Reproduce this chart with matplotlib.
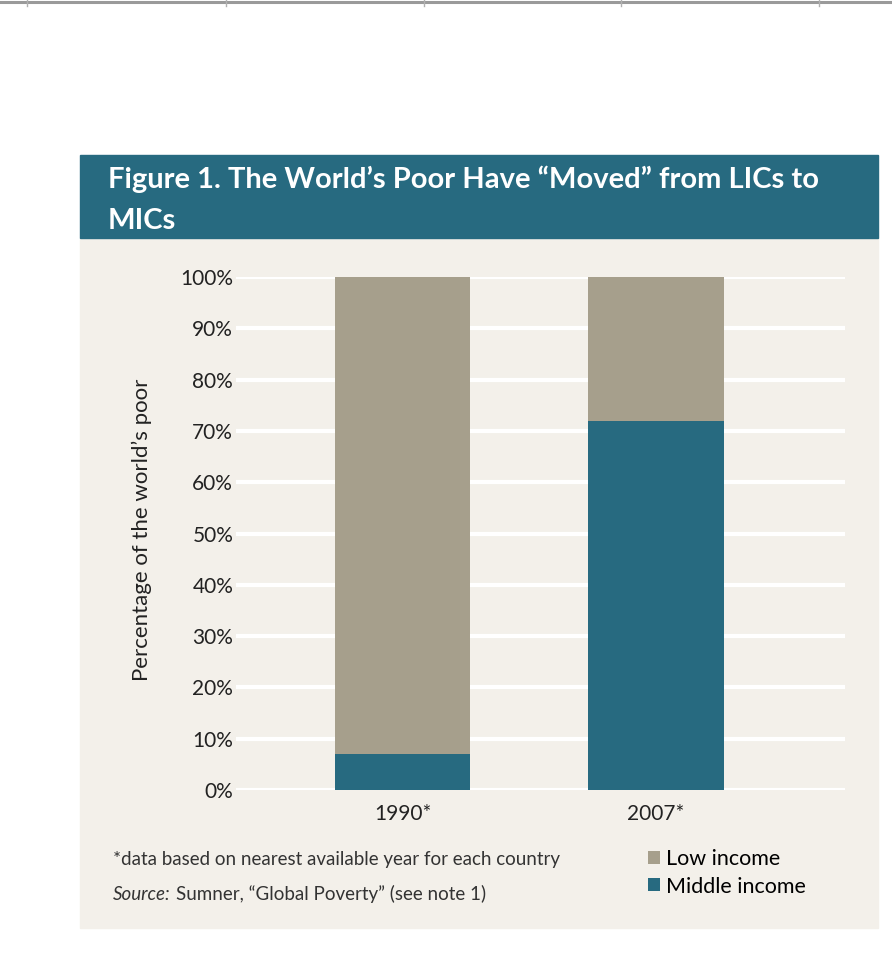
import matplotlib.pyplot as plt
from matplotlib.patches import Rectangle
from matplotlib.lines import Line2D

plt.rcParams['font.family'] = ['Lato', 'DejaVu Sans']

years = ['1990*', '2007*']
middle_income = [7, 72]
low_income = [93, 28]
y_ticks = [0, 10, 20, 30, 40, 50, 60, 70, 80, 90, 100]

teal = '#276a80'
grey = '#a69f8c'
panel = '#f3f0ea'

W, H = 892, 958
fig = plt.figure(figsize=(W / 100, H / 100), dpi=100)

def fx(px):
    return px / W

def fy(py):
    return 1 - py / H

# screenshot border line at the very top
fig.add_artist(Line2D([0, 1], [fy(1.5), fy(1.5)], color='#9a9a9a', lw=2.2))
for x in [27, 226, 424, 621, 819]:
    fig.add_artist(Line2D([fx(x), fx(x)], [fy(0), fy(6)], color='#b0b0b0', lw=1))

# panel background and title band
fig.add_artist(Rectangle((fx(80), fy(928)), fx(878) - fx(80), fy(238) - fy(928),
                         color=panel, zorder=0))
fig.add_artist(Rectangle((fx(80), fy(238)), fx(878) - fx(80), fy(155) - fy(238),
                         color=teal, zorder=0))
fig.text(fx(108), fy(166), 'Figure 1. The World\u2019s Poor Have \u201cMoved\u201d from LICs to\nMICs',
         color='white', fontsize=21, fontweight='bold', va='top', ha='left',
         linespacing=1.7)

ax = fig.add_axes([fx(236), fy(790), fx(845) - fx(236), fy(277) - fy(790)])
ax.set_facecolor('none')
x = [0, 1]
mid_bars = ax.bar(x, middle_income, width=0.535, color=teal, label='Middle income', zorder=2)
low_bars = ax.bar(x, low_income, width=0.535, bottom=middle_income, color=grey,
                  label='Low income', zorder=2)
ax.set_xlim(-0.657, 1.746)
ax.set_ylim(0, 100)
ax.set_yticks(y_ticks)
ax.set_yticklabels([f'{v}%' for v in y_ticks])
ax.set_xticks(x)
ax.set_xticklabels(years)
ax.grid(axis='y', color='white', lw=3)
ax.set_axisbelow(True)
for s in ax.spines.values():
    s.set_visible(False)
ax.tick_params(axis='both', length=0, labelsize=15, colors='#222222')
ax.tick_params(axis='y', pad=2)
ax.tick_params(axis='x', pad=10)

fig.text(fx(142), fy(530), 'Percentage of the world\u2019s poor', rotation=90,
         ha='center', va='center', fontsize=16, color='#222222')

fig.text(fx(113), fy(860), '*data based on nearest available year for each country',
         fontsize=13.5, color='#333333', va='center', ha='left')
fig.text(fx(113), fy(894), 'Source:', fontsize=13.5, color='#333333', va='center',
         ha='left', style='italic')
fig.text(fx(176), fy(894), 'Sumner, \u201cGlobal Poverty\u201d (see note 1)', fontsize=13.5,
         color='#333333', va='center', ha='left')

fig.legend(handles=[low_bars, mid_bars], labels=['Low income', 'Middle income'],
           loc='upper left', bbox_to_anchor=(fx(648), fy(849)), frameon=False,
           fontsize=15.5, handlelength=0.55, handleheight=0.55, handletextpad=0.3,
           labelspacing=0.35, borderaxespad=0, borderpad=0)

fig.savefig('out.png', dpi=100)
